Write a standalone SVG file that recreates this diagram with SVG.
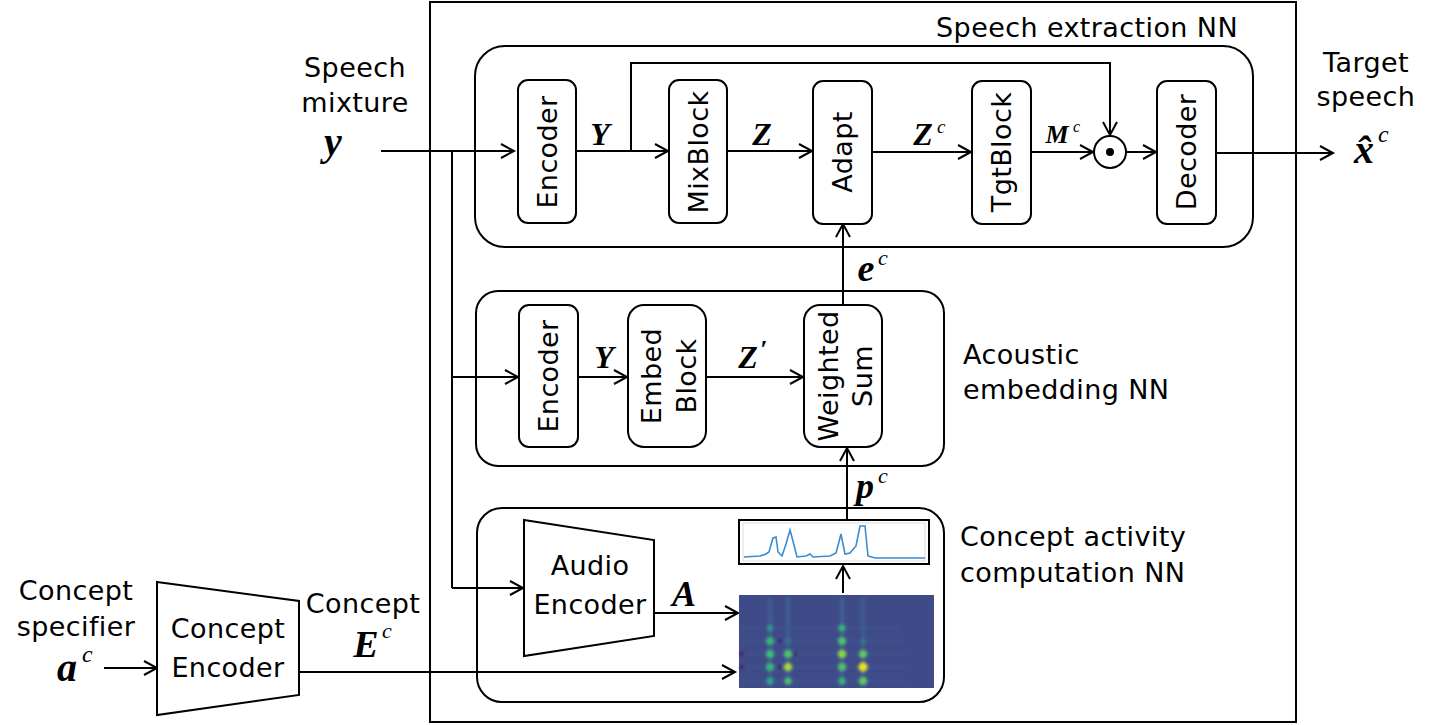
<svg xmlns="http://www.w3.org/2000/svg" width="1443" height="725" viewBox="0 0 1443 725">
<style>
.t{font-family:"DejaVu Sans","Liberation Sans",sans-serif;font-size:27px;letter-spacing:0.4px;fill:#000}
.m{font-family:"Liberation Serif",serif;font-style:italic;font-weight:bold;fill:#000}
.s{font-family:"Liberation Serif",serif;font-style:italic;fill:#000}
.box{fill:#fff;stroke:#000;stroke-width:2}
.grp{fill:none;stroke:#000;stroke-width:2}
.ln{fill:none;stroke:#000;stroke-width:2}
.ar{fill:none;stroke:#000;stroke-width:2;marker-end:url(#ah)}
</style>
<defs>
<marker id="ah" markerUnits="userSpaceOnUse" markerWidth="18" markerHeight="20" viewBox="-1 -1 18 20" refX="14" refY="8" orient="auto" overflow="visible">
<path d="M1,1 L14,8 L1,15" fill="none" stroke="#000" stroke-width="2"/>
</marker>
<filter id="blur" x="-20%" y="-20%" width="140%" height="140%"><feGaussianBlur stdDeviation="1.6"/></filter>
</defs>
<rect width="1443" height="725" fill="#fff"/>

<!-- frames -->
<g id="outer">
<rect x="430" y="2" width="866" height="720" class="grp"/>
<text class="t" x="1238" y="37" text-anchor="end">Speech extraction NN</text>
</g>
<g id="speech-extraction-nn"><rect x="475" y="46" width="778" height="201" rx="30" class="grp"/></g>
<g id="acoustic-embedding-nn">
<rect x="476" y="291" width="468" height="175" rx="22" class="grp"/>
<text class="t" x="963" y="364">Acoustic</text>
<text class="t" x="963" y="399">embedding NN</text>
</g>
<g id="concept-activity-nn">
<rect x="477" y="508" width="467" height="194" rx="25" class="grp"/>
<text class="t" x="960" y="546">Concept activity</text>
<text class="t" x="960" y="582">computation NN</text>
</g>

<!-- connectors -->
<g id="connectors">
<path class="ar" d="M381,151 H514"/>
<path class="ln" d="M452,151 V588"/>
<path class="ar" d="M452,377 H518"/>
<path class="ar" d="M452,588 H523"/>
<path class="ar" d="M576,151 H668"/>
<path class="ar" d="M631,151 V63 H1110 V135"/>
<path class="ar" d="M727,151 H812"/>
<path class="ar" d="M872,152 H971"/>
<path class="ar" d="M1031,152 H1093"/>
<path class="ar" d="M1126,152 H1156"/>
<path class="ar" d="M1216,153 H1333"/>
<path class="ar" d="M578,377 H627"/>
<path class="ar" d="M706,377 H803"/>
<path class="ar" d="M843,305 V224"/>
<path class="ar" d="M847,520 V448"/>
<path class="ar" d="M843,593 V566"/>
<path class="ar" d="M654,613 H738"/>
<path class="ar" d="M299,672 H735"/>
<path class="ar" d="M104,668 H157"/>
<!-- connector labels -->
<text class="m" x="600" y="145" font-size="32" text-anchor="middle">Y</text>
<text class="m" x="762" y="145" font-size="32" text-anchor="middle">Z</text>
<text class="m" x="923" y="145" font-size="32" text-anchor="middle">Z</text>
<text class="s" x="937" y="133" font-size="19">c</text>
<text class="m" x="1057" y="143" font-size="26" text-anchor="middle">M</text>
<text class="s" x="1073" y="132" font-size="16">c</text>
<text class="m" x="604" y="368" font-size="32" text-anchor="middle">Y</text>
<text class="m" x="748" y="368" font-size="32" text-anchor="middle">Z</text>
<text class="s" x="760" y="358" font-size="26" font-weight="bold">′</text>
<text class="m" x="866" y="281" font-size="38" text-anchor="middle">e</text>
<text class="s" x="878" y="265" font-size="22">c</text>
<text class="m" x="865" y="498" font-size="36" text-anchor="middle">p</text>
<text class="s" x="878" y="483" font-size="22">c</text>
<text class="m" x="684" y="606" font-size="36" text-anchor="middle">A</text>
<text class="t" x="363" y="613" text-anchor="middle">Concept</text>
<text class="m" x="366" y="657" font-size="38" text-anchor="middle">E</text>
<text class="s" x="382" y="638" font-size="22">c</text>
</g>

<!-- inputs / outputs -->
<g id="speech-mixture">
<text class="t" x="355" y="77" text-anchor="middle">Speech</text>
<text class="t" x="355" y="112" text-anchor="middle">mixture</text>
<text class="m" x="333" y="155" font-size="40" text-anchor="middle">y</text>
</g>
<g id="target-speech">
<text class="t" x="1366" y="72" text-anchor="middle">Target</text>
<text class="t" x="1366" y="106" text-anchor="middle">speech</text>
<text class="m" x="1364" y="163" font-size="40" text-anchor="middle">x̂</text>
<text class="s" x="1378" y="142" font-size="24">c</text>
</g>
<g id="concept-specifier">
<text class="t" x="76" y="600" text-anchor="middle">Concept</text>
<text class="t" x="76" y="636" text-anchor="middle">specifier</text>
<text class="m" x="67" y="681" font-size="40" text-anchor="middle">a</text>
<text class="s" x="82" y="662" font-size="24">c</text>
</g>

<!-- top row -->
<g id="encoder1"><rect x="518" y="80" width="58" height="143" rx="10" class="box"/>
<text class="t" transform="translate(547,152) rotate(-90)" text-anchor="middle" dominant-baseline="central">Encoder</text></g>
<g id="mixblock"><rect x="669" y="80" width="58" height="143" rx="10" class="box"/>
<text class="t" transform="translate(698,152) rotate(-90)" text-anchor="middle" dominant-baseline="central">MixBlock</text></g>
<g id="adapt"><rect x="813" y="81" width="59" height="143" rx="10" class="box"/>
<text class="t" transform="translate(842,152) rotate(-90)" text-anchor="middle" dominant-baseline="central">Adapt</text></g>
<g id="tgtblock"><rect x="972" y="81" width="59" height="143" rx="10" class="box"/>
<text class="t" transform="translate(1001,152) rotate(-90)" text-anchor="middle" dominant-baseline="central">TgtBlock</text></g>
<g id="mult"><circle cx="1110" cy="152" r="16" class="box"/><circle cx="1110" cy="152" r="4" fill="#000"/></g>
<g id="decoder"><rect x="1157" y="81" width="59" height="143" rx="10" class="box"/>
<text class="t" transform="translate(1186,152) rotate(-90)" text-anchor="middle" dominant-baseline="central">Decoder</text></g>

<!-- middle row -->
<g id="encoder2"><rect x="519" y="305" width="59" height="142" rx="10" class="box"/>
<text class="t" transform="translate(548,376) rotate(-90)" text-anchor="middle" dominant-baseline="central">Encoder</text></g>
<g id="embedblock"><rect x="628" y="305" width="78" height="142" rx="16" class="box"/>
<text class="t" transform="translate(667,376) rotate(-90)" text-anchor="middle"><tspan x="0" y="-6">Embed</tspan><tspan x="0" y="29">Block</tspan></text></g>
<g id="weightedsum"><rect x="804" y="305" width="78" height="142" rx="16" class="box"/>
<text class="t" transform="translate(843,376) rotate(-90)" text-anchor="middle"><tspan x="0" y="-5">Weighted</tspan><tspan x="0" y="29">Sum</tspan></text></g>

<!-- bottom -->
<g id="audio-encoder"><polygon points="524,520 654,540 654,636 524,656" class="box"/>
<text class="t" x="590" y="575" text-anchor="middle">Audio</text>
<text class="t" x="590" y="614" text-anchor="middle">Encoder</text></g>
<g id="concept-encoder"><polygon points="157,582 299,601 299,695 157,715" class="box"/>
<text class="t" x="228" y="638" text-anchor="middle">Concept</text>
<text class="t" x="228" y="677" text-anchor="middle">Encoder</text></g>

<g id="activity-plot">
<rect x="739" y="520" width="190" height="44" class="box"/>
<rect x="743" y="523" width="182" height="38" fill="none" stroke="#ddd" stroke-width="1"/>
<polyline fill="none" stroke="#3a8cd0" stroke-width="1.6" points="744,557 760,556 766,554 769,552 773,538 776,537 778,552 782,556 786,544 790,530 794,545 797,557 806,556 810,554 813,557 830,556 836,553 841,534 845,554 850,553 856,546 860,526 865,526 868,556 875,558 925,558"/>
</g>

<g id="heatmap">
<rect x="739" y="595" width="195" height="93" fill="#3f4b89"/>
<g filter="url(#blur)">
<g fill="none" stroke-width="4" opacity="0.5">
<path d="M770,597 V686" stroke="#3f6f93"/>
<path d="M788,597 V686" stroke="#3f6f93"/>
<path d="M842,597 V686" stroke="#3f7793"/>
<path d="M863,597 V686" stroke="#3f6f93"/>
</g>
<g fill="none" stroke-width="3" opacity="0.3" stroke="#42628f">
<path d="M741,628 H900"/><path d="M741,641 H900"/><path d="M741,654 H905"/><path d="M741,667 H905"/><path d="M741,681 H905"/>
</g>
<circle cx="770" cy="628" r="3" fill="#2f9c8a"/>
<circle cx="770" cy="641" r="4" fill="#35b779"/>
<circle cx="770" cy="654" r="4" fill="#3bbf77"/>
<circle cx="770" cy="667" r="4" fill="#35b779"/>
<circle cx="770" cy="681" r="3.5" fill="#2fa884"/>
<circle cx="788" cy="641" r="2.5" fill="#2a7f8e"/>
<circle cx="788" cy="654" r="4" fill="#4cc26c"/>
<circle cx="788" cy="667" r="4" fill="#a5db36"/>
<circle cx="788" cy="681" r="3.5" fill="#4cc26c"/>
<circle cx="842" cy="628" r="3.5" fill="#35b779"/>
<circle cx="842" cy="641" r="4" fill="#4cc26c"/>
<circle cx="842" cy="654" r="4" fill="#90d743"/>
<circle cx="842" cy="667" r="4" fill="#4cc26c"/>
<circle cx="842" cy="681" r="3.5" fill="#35b779"/>
<circle cx="863" cy="641" r="2.5" fill="#2a7f8e"/>
<circle cx="863" cy="654" r="4" fill="#5ec962"/>
<circle cx="863" cy="667" r="4.5" fill="#e8e419"/>
<circle cx="863" cy="681" r="4" fill="#5ec962"/>
<circle cx="742" cy="654" r="2" fill="#44166b"/>
<circle cx="742" cy="667" r="2" fill="#44166b"/>
<circle cx="780" cy="641" r="2" fill="#3b1c6e"/>
<circle cx="780" cy="667" r="2" fill="#3b1c6e"/>
<circle cx="795" cy="654" r="2" fill="#3b1c6e"/>
</g>
</g>
</svg>
